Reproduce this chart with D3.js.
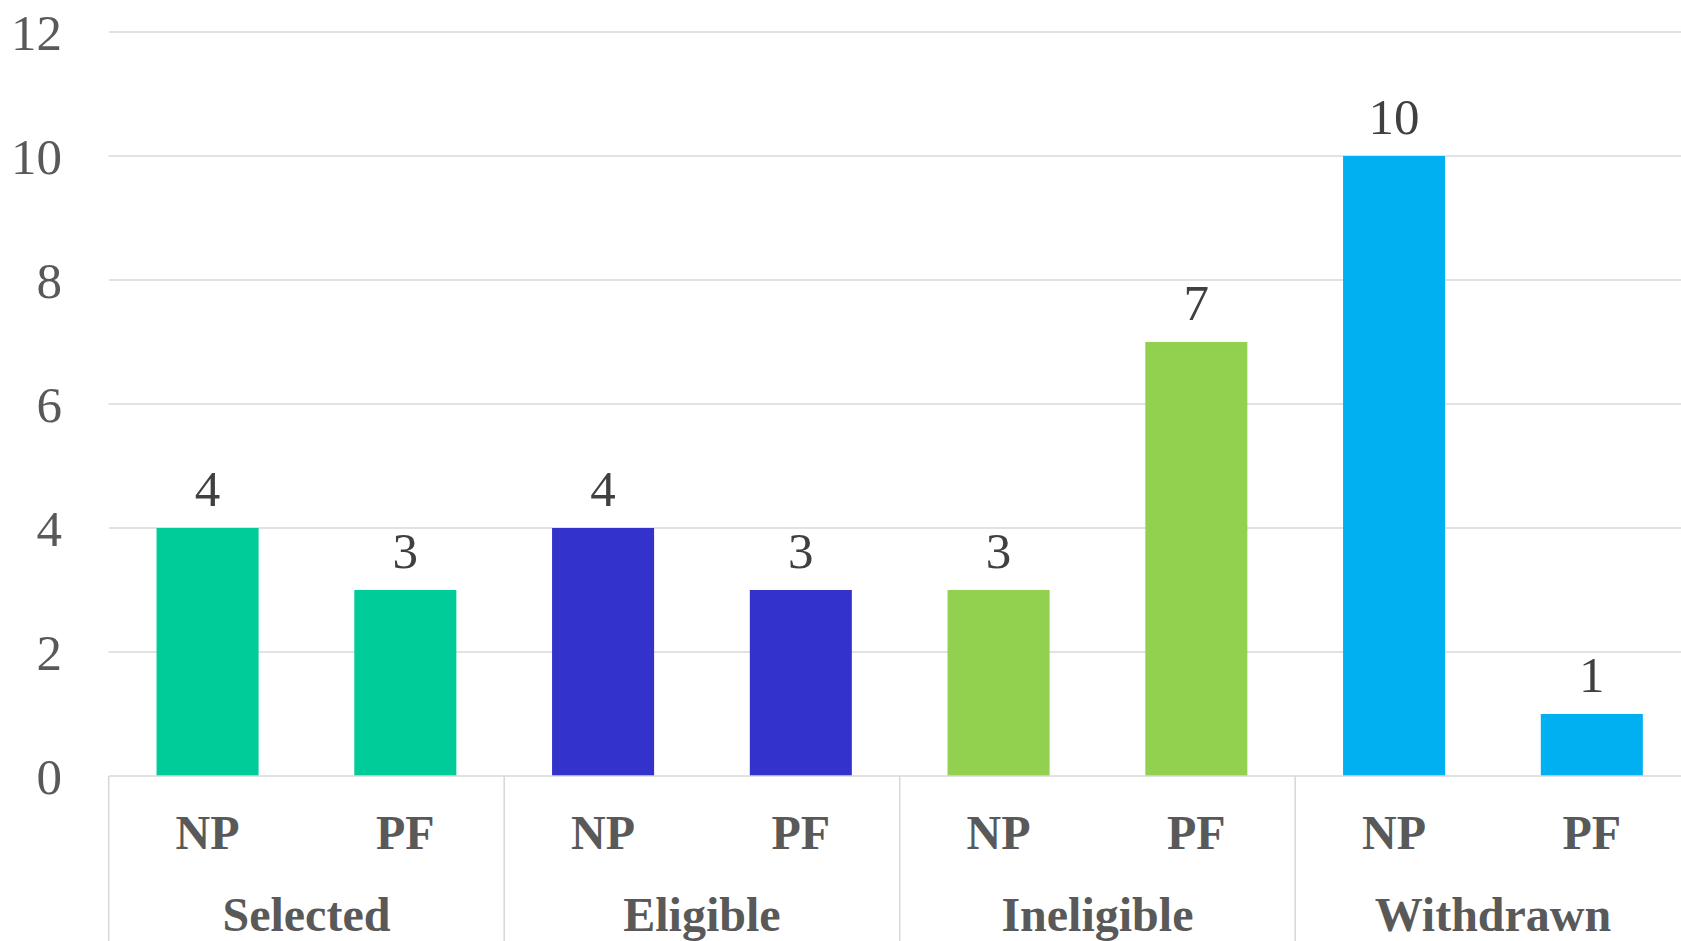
<!DOCTYPE html>
<html>
<head>
<meta charset="utf-8">
<script src="https://cdn.jsdelivr.net/npm/d3@7"></script>
<style>
  html, body { margin: 0; padding: 0; background: #ffffff; overflow: hidden; }
  svg { display: block; }
  text { font-family: "Liberation Serif", "Times New Roman", serif; }
</style>
</head>
<body>
<svg id="chart" width="1681" height="941"></svg>
<script>
// Applicant status by programme type
const groups = ["Selected", "Eligible", "Ineligible", "Withdrawn"];
const subTypes = ["NP", "PF"];
const valuesNP = [4, 4, 3, 10];
const valuesPF = [3, 3, 7, 1];
const groupColors = ["#00CC99", "#3333CC", "#92D050", "#00B0F0"];
const yTicks = [0, 2, 4, 6, 8, 10, 12];

const rows = [];
groups.forEach((g, i) => {
  rows.push({ key: g + "|NP", group: g, sub: subTypes[0], value: valuesNP[i], color: groupColors[i] });
  rows.push({ key: g + "|PF", group: g, sub: subTypes[1], value: valuesPF[i], color: groupColors[i] });
});

const svg = d3.select("#chart");
const plotLeft = 108.7, step = 197.75;
const plotRight = plotLeft + rows.length * step;   // plot extends past the window edge
const plotTop = 32, plotBottom = 776;

const x = d3.scaleBand()
  .domain(rows.map(d => d.key))
  .range([plotLeft, plotRight])
  .paddingInner(0.484)
  .paddingOuter(0.242);

const y = d3.scaleLinear().domain([0, 12]).range([plotBottom, plotTop]);

// Horizontal gridlines
svg.append("g")
  .selectAll("line")
  .data(yTicks.filter(t => t > 0))
  .join("line")
  .attr("x1", plotLeft).attr("x2", plotRight)
  .attr("y1", d => y(d)).attr("y2", d => y(d))
  .attr("stroke", "#D9D9D9").attr("stroke-width", 1.4);

// Y tick labels
svg.append("g")
  .selectAll("text")
  .data(yTicks)
  .join("text")
  .attr("x", 62)
  .attr("y", d => y(d) + 17.5)
  .attr("text-anchor", "end")
  .attr("font-size", 51)
  .attr("fill", "#595959")
  .text(d => d);

// Bars
svg.append("g")
  .selectAll("rect")
  .data(rows)
  .join("rect")
  .attr("x", d => x(d.key))
  .attr("width", x.bandwidth())
  .attr("y", d => y(d.value))
  .attr("height", d => y(0) - y(d.value))
  .attr("fill", d => d.color);

// Value labels
svg.append("g")
  .selectAll("text")
  .data(rows)
  .join("text")
  .attr("x", d => x(d.key) + x.bandwidth() / 2)
  .attr("y", d => y(d.value) - 22)
  .attr("text-anchor", "middle")
  .attr("font-size", 51)
  .attr("fill", "#404040")
  .text(d => d.value);

// Category axis: baseline and group separators
svg.append("line")
  .attr("x1", plotLeft).attr("x2", plotRight)
  .attr("y1", plotBottom).attr("y2", plotBottom)
  .attr("stroke", "#D9D9D9").attr("stroke-width", 1.6);

const groupEdges = d3.range(groups.length + 1).map(i => plotLeft + i * 2 * step);
svg.append("g")
  .selectAll("line")
  .data(groupEdges)
  .join("line")
  .attr("x1", d => d).attr("x2", d => d)
  .attr("y1", plotBottom).attr("y2", 941)
  .attr("stroke", "#D9D9D9").attr("stroke-width", 1.6);

// Sub-category labels
svg.append("g")
  .selectAll("text")
  .data(rows)
  .join("text")
  .attr("x", d => x(d.key) + x.bandwidth() / 2)
  .attr("y", 849)
  .attr("text-anchor", "middle")
  .attr("font-size", 48)
  .attr("font-weight", "bold")
  .attr("fill", "#595959")
  .text(d => d.sub);

// Group labels
svg.append("g")
  .selectAll("text")
  .data(groups)
  .join("text")
  .attr("x", (d, i) => plotLeft + (i * 2 + 1) * step)
  .attr("y", 931)
  .attr("text-anchor", "middle")
  .attr("font-size", 48)
  .attr("font-weight", "bold")
  .attr("fill", "#595959")
  .text(d => d);
</script>
</body>
</html>
